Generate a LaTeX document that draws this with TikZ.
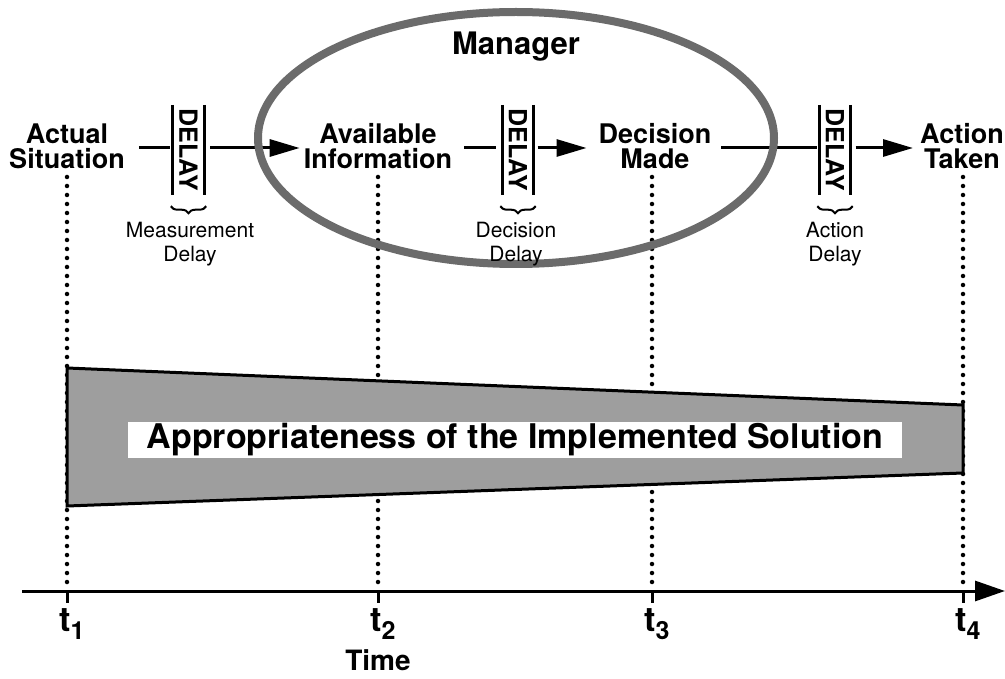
\documentclass[tikz,border=0pt]{standalone}
\usepackage{fontspec}
\setmainfont{TeX Gyre Heros}
\usetikzlibrary{arrows.meta,decorations.pathreplacing}
\tikzset{
  lbl/.style={font=\bfseries\fontsize{27}{25}\selectfont, align=center, inner sep=2pt},
  sublbl/.style={font=\fontsize{21}{24}\selectfont, align=center, inner sep=1pt},
  delaybox/.style={minimum width=31pt, minimum height=90pt, inner sep=0pt},
  delaytxt/.style={rotate=-90, font=\bfseries\fontsize{25}{25}\selectfont, inner sep=0pt},
  boxside/.style={line width=3pt},
  conn/.style={line width=3pt},
  arr/.style={line width=3pt, -{Triangle[length=30pt,width=17pt]}},
  guide/.style={line width=4.5pt, line cap=round, dash pattern=on 0pt off 9pt},
  brc/.style={line width=2pt, decorate, decoration={brace, amplitude=7pt}},
  tlbl/.style={font=\bfseries\fontsize{34}{34}\selectfont, inner sep=0pt},
}
\newcommand{\tsub}[1]{t\raisebox{-8pt}{\fontsize{25}{25}\selectfont #1}}
\begin{document}
\begin{tikzpicture}[x=1pt,y=-1pt]
\useasboundingbox (0,0) rectangle (1005,679);
% labels
\node[lbl] (as) at (67,146) {Actual\\Situation};
\node[lbl] (ai) at (378,146) {Available\\Information};
\node[lbl] (dm) at (655,146) {Decision\\Made};
\node[lbl] (at) at (962,146) {Action\\Taken};
% dotted guides
\coordinate (g1t) at (67,177);  \coordinate (g1b) at (67,586);
\coordinate (g2t) at (378,177); \coordinate (g2b) at (378,586);
\coordinate (g3t) at (652,177); \coordinate (g3b) at (652,586);
\coordinate (g4t) at (963,177); \coordinate (g4b) at (963,586);
\draw[guide] (g1t) -- (g1b);
\draw[guide] (g2t) -- (g2b);
\draw[guide] (g3t) -- (g3b);
\draw[guide] (g4t) -- (g4b);
% delay boxes
\node[delaybox] (d1) at (188.5,150) {};
\node[delaybox] (d2) at (518,150) {};
\node[delaybox] (d3) at (835,150) {};
\foreach \d in {d1,d2,d3}{
  \draw[boxside] (\d.north west) -- (\d.south west);
  \draw[boxside] (\d.north east) -- (\d.south east);
  \node[delaytxt] at (\d.center) {DELAY};
}
% connectors
\draw[conn] ([xshift=12pt]as.east |- 0,148) -- ([xshift=-3pt]d1.west |- 0,148);
\draw[arr] ([xshift=6pt]d1.east |- 0,148) -- ([xshift=-2pt]ai.west |- 0,148);
\draw[conn] ([xshift=10pt]ai.east |- 0,148) -- ([xshift=-6pt]d2.west |- 0,148);
\draw[arr] ([xshift=4pt]d2.east |- 0,148) -- ([xshift=-10pt]dm.west |- 0,148);
\draw[conn] ([xshift=8pt]dm.east |- 0,148) -- ([xshift=-2pt]d3.west |- 0,148);
\draw[arr] ([xshift=5pt]d3.east |- 0,148) -- ([xshift=-5pt]at.west |- 0,148);
% manager ellipse
\node (mgr) at (516,47) [font=\bfseries\fontsize{31}{31}\selectfont] {Manager};
\draw[line width=8pt, black!58] (516,138) ellipse [x radius=258, y radius=126];
% braces
\foreach \d in {d1,d2,d3}{
  \draw[brc] ([xshift=2pt,yshift=-11pt]\d.south east) -- ([xshift=-2pt,yshift=-11pt]\d.south west);
}
\node[sublbl] (m1) at (190,244) {Measurement\\Delay};
\node[sublbl] (m2) at (516,244) {Decision\\Delay};
\node[sublbl] (m3) at (835,244) {Action\\Delay};
% appropriateness band
\coordinate (p1) at (67,368);
\coordinate (p2) at (963,405);
\coordinate (p3) at (963,473);
\coordinate (p4) at (67,506);
\draw[line width=3pt, fill=black!38, line join=miter] (p1) -- (p2) -- (p3) -- (p4) -- cycle;
\node[fill=white, minimum width=774pt, minimum height=36pt, inner sep=0pt,
      font=\bfseries\fontsize{34}{34}\selectfont] (ap) at (515,440) {Appropriateness of the Implemented Solution};
% time axis
\coordinate (ax0) at (22,591);
\coordinate (ax1) at (1005,591);
\draw[line width=3pt, -{Triangle[length=30pt,width=20pt]}] (ax0) -- (ax1);
\foreach \x in {67,378,652,963}{
  \draw[line width=3pt] (\x,591) -- (\x,603);
}
\node[tlbl] (t1) at (72,624) {\tsub{1}};
\node[tlbl] (t2) at (383,624) {\tsub{2}};
\node[tlbl] (t3) at (657,624) {\tsub{3}};
\node[tlbl] (t4) at (968,624) {\tsub{4}};
\node[font=\bfseries\fontsize{28}{28}\selectfont, inner sep=0pt] (time) at (378,660) {Time};
\end{tikzpicture}
\end{document}
